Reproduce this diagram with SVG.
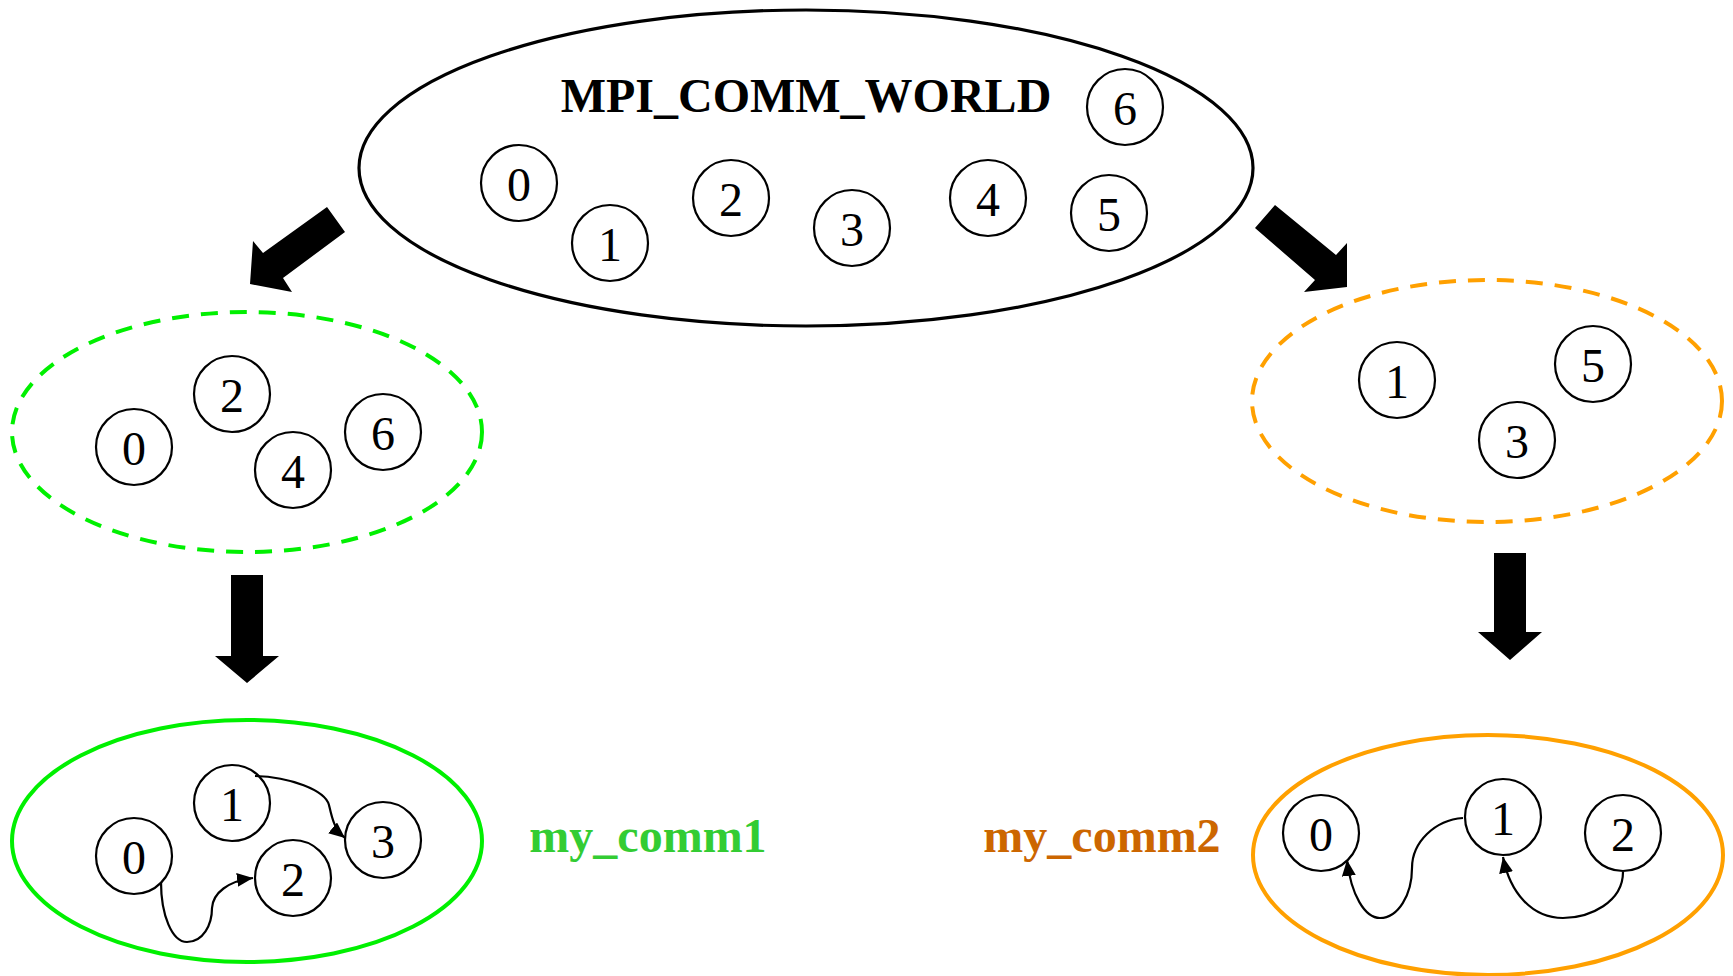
<svg xmlns="http://www.w3.org/2000/svg" width="1733" height="976" viewBox="0 0 1733 976">
  <style>
    .proc circle { fill: #ffffff; stroke: #000000; stroke-width: 2.2; }
    .proc text { font-family: "Liberation Serif", "Times New Roman", serif; font-size: 48px; fill: #000000; text-anchor: middle; }
    .title { font-family: "Liberation Serif", "Times New Roman", serif; font-size: 48px; font-weight: bold; text-anchor: middle; }
    .world { fill: none; stroke: #000000; stroke-width: 3.2; }
    .green-dash { fill: none; stroke: #00f000; stroke-width: 4; stroke-dasharray: 17 12; }
    .orange-dash { fill: none; stroke: #ffa000; stroke-width: 4; stroke-dasharray: 17 12; }
    .green-solid { fill: none; stroke: #00f000; stroke-width: 4; }
    .orange-solid { fill: none; stroke: #ffa000; stroke-width: 4; }
    .block { fill: #000000; stroke: none; }
    .msg { fill: none; stroke: #000000; stroke-width: 2.2; marker-end: url(#tip); }
  </style>
  <defs>
    <marker id="tip" markerUnits="userSpaceOnUse" markerWidth="17" markerHeight="14" refX="16" refY="7" orient="auto">
      <path d="M0,0 L16,7 L0,14 z" fill="#000000"/>
    </marker>
  </defs>
  <rect width="1733" height="976" fill="#ffffff"/>

  <!-- MPI_COMM_WORLD with all seven processes -->
  <g id="world">
    <ellipse class="world" cx="806" cy="168" rx="447" ry="158"/>
    <text class="title" x="806" y="112" fill="#000000">MPI_COMM_WORLD</text>
    <g class="proc" id="w0"><circle cx="519" cy="183" r="38"/><text x="519" y="201">0</text></g>
    <g class="proc" id="w1"><circle cx="610" cy="243" r="38"/><text x="610" y="261">1</text></g>
    <g class="proc" id="w2"><circle cx="731" cy="198" r="38"/><text x="731" y="216">2</text></g>
    <g class="proc" id="w3"><circle cx="852" cy="228" r="38"/><text x="852" y="246">3</text></g>
    <g class="proc" id="w4"><circle cx="988" cy="198" r="38"/><text x="988" y="216">4</text></g>
    <g class="proc" id="w5"><circle cx="1109" cy="213" r="38"/><text x="1109" y="231">5</text></g>
    <g class="proc" id="w6"><circle cx="1125" cy="107" r="38"/><text x="1125" y="125">6</text></g>
  </g>

  <!-- even ranks group -->
  <g id="group-even">
    <ellipse class="green-dash" cx="247" cy="432" rx="235" ry="120"/>
    <g class="proc" id="g0"><circle cx="134" cy="447" r="38"/><text x="134" y="465">0</text></g>
    <g class="proc" id="g2"><circle cx="232" cy="394" r="38"/><text x="232" y="412">2</text></g>
    <g class="proc" id="g4"><circle cx="293" cy="470" r="38"/><text x="293" y="488">4</text></g>
    <g class="proc" id="g6"><circle cx="383" cy="432" r="38"/><text x="383" y="450">6</text></g>
  </g>

  <!-- odd ranks group -->
  <g id="group-odd">
    <ellipse class="orange-dash" cx="1487" cy="401" rx="235" ry="121"/>
    <g class="proc" id="o1"><circle cx="1397" cy="380" r="38"/><text x="1397" y="398">1</text></g>
    <g class="proc" id="o3"><circle cx="1517" cy="440" r="38"/><text x="1517" y="458">3</text></g>
    <g class="proc" id="o5"><circle cx="1593" cy="364" r="38"/><text x="1593" y="382">5</text></g>
  </g>

  <!-- my_comm1 -->
  <g id="comm1">
    <ellipse class="green-solid" cx="247" cy="841" rx="235" ry="121"/>
    <g class="proc" id="c1-0"><circle cx="134" cy="856" r="38"/><text x="134" y="874">0</text></g>
    <g class="proc" id="c1-1"><circle cx="232" cy="803" r="38"/><text x="232" y="821">1</text></g>
    <g class="proc" id="c1-2"><circle cx="293" cy="878" r="38"/><text x="293" y="896">2</text></g>
    <g class="proc" id="c1-3"><circle cx="383" cy="840" r="38"/><text x="383" y="858">3</text></g>
  </g>
  <g id="comm1-label">
    <text class="title" x="648" y="852" fill="#33cc33">my_comm1</text>
  </g>

  <!-- my_comm2 -->
  <g id="comm2">
    <ellipse class="orange-solid" cx="1488" cy="855" rx="235" ry="120"/>
    <g class="proc" id="c2-0"><circle cx="1321" cy="833" r="38"/><text x="1321" y="851">0</text></g>
    <g class="proc" id="c2-1"><circle cx="1503" cy="817" r="38"/><text x="1503" y="835">1</text></g>
    <g class="proc" id="c2-2"><circle cx="1623" cy="833" r="38"/><text x="1623" y="851">2</text></g>
  </g>
  <g id="comm2-label">
    <text class="title" x="1102" y="852" fill="#cc6600">my_comm2</text>
  </g>

  <!-- connectors: split arrows and messages -->
  <g id="connectors">
    <polygon class="block" points="327,207 263,253 253,241 250,284 292,292 283,278 345,232"/>
    <polygon class="block" points="1275,205 1336,255 1347,243 1347,287 1304,292 1315,280 1255,228"/>
    <polygon class="block" points="231,575 263,575 263,656 279,656 247,683 215,656 231,656"/>
    <polygon class="block" points="1494,553 1526,553 1526,632 1542,632 1510,660 1478,632 1494,632"/>
    <path class="msg" d="M 255,776 C 290,777 325,790 329,805 C 332,818 334,829 345,838"/>
    <path class="msg" d="M 161,882 C 161,915 172,942 187,942 C 203,942 212,925 212,908 C 213,893 228,881 253,878"/>
    <path class="msg" d="M 1463,818 C 1435,820 1412,842 1412,868 C 1412,895 1398,918 1380,918 C 1365,918 1351,895 1347,860"/>
    <path class="msg" d="M 1623,872 C 1623,902 1590,918 1563,918 C 1532,918 1510,893 1503,857"/>
  </g>
</svg>
